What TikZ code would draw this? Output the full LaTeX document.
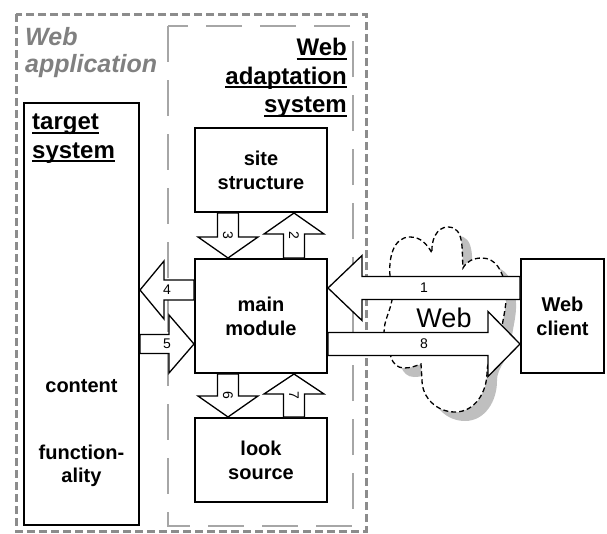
\documentclass[tikz,border=0pt]{standalone}
\usepackage{fontspec}
\setmainfont{Liberation Sans}
\usetikzlibrary{positioning,calc}

\newsavebox{\ulbox}
\newcommand{\ulword}[1]{\sbox{\ulbox}{#1}\rlap{\rule[-4pt]{\wd\ulbox}{2pt}}\usebox{\ulbox}}

% block arrow: [label opts]{start}{end}{half shaft}{half head}{head length}{label}
\newcommand{\blockarrow}[7][]{%
	\coordinate (ba-h) at ($(#3)!#6!(#2)$);
	\draw [flow] ($(#2)!#4!90:(#3)$) -- ($(ba-h)!#4!90:(#3)$) -- ($(ba-h)!#5!90:(#3)$) -- (#3)
		-- ($(ba-h)!#5!-90:(#3)$) -- ($(ba-h)!#4!-90:(#3)$) -- ($(#2)!#4!-90:(#3)$) -- cycle;
	\node [num,#1] (num#7) at ($(#2)!0.5!(#3)$) {#7};
}

\newcommand{\cloudshape}[1]{%
	\path [#1] (390,276) to[out=95,in=180] (410,237) to[out=0,in=120] (432,253)
		to[out=95,in=180] (448,227) to[out=0,in=95] (463,268)
		to[out=60,in=180] (482,258) to[out=0,in=100] (505,285)
		to[out=-80,in=85] (501,335) to[out=-95,in=90] (487,372)
		to[out=-90,in=0] (455,412) to[out=180,in=-90] (422,380) -- (421,364)
		to[out=-160,in=0] (404,368) to[out=180,in=-75] (391,357)
		to[out=105,in=-90] (384,333) to[out=90,in=-100] (392,300)
		to[out=80,in=-85] (390,276) -- cycle;}

\begin{document}
\begin{tikzpicture}[x=1pt,y=-1pt]
	\tikzstyle{box} = [rectangle, draw, line width=2pt, font=\bfseries\fontsize{20}{24}\selectfont, align=center, minimum width=132pt, minimum height=84pt, inner sep=0pt];
	\tikzstyle{flow} = [draw, fill=white, line width=1.3pt, line join=miter];
	\tikzstyle{num} = [font=\fontsize{14}{16}\selectfont, inner sep=0pt];
	\tikzstyle{heading} = [font=\bfseries\fontsize{24}{28.5}\selectfont, inner sep=0pt];
	\useasboundingbox (0,0) rectangle (607,533);
	
	% frames
	\draw [black!45, line width=3pt, dash pattern=on 8pt off 4pt] (16,14) rectangle (366,531);
	\draw [black!35, line width=1.5pt, dash pattern=on 36pt off 18pt] (168,26) rectangle (353,526);
	\node [black!50, font=\bfseries\itshape\fontsize{25}{27}\selectfont, inner sep=0pt, align=left, anchor=north west] (webapp) at (25,27) {Web\\application};
	\node [heading, align=right, anchor=north east] (wastitle) at (347,38) {\ulword{Web}\\\ulword{adaptation}\\\ulword{system}};
	
	% cloud
	\cloudshape{fill=black!25, shift={(10,9)}}
	\cloudshape{draw, fill=white, line width=1.3pt, dash pattern=on 5pt off 3pt}
	\node [font=\fontsize{27}{30}\selectfont, inner sep=0pt] (webtext) at (444,318) {Web};
	
	% boxes
	\draw node [box, minimum height=114pt] (main) at (261,316) {main\\module};
	\draw node [box, above=45pt of main] (site) {site\\structure};
	\draw node [box, below=43pt of main] (look) {look\\source};
	\draw node [box, minimum width=83pt, minimum height=114pt, right=192pt of main] (client) {Web\\client};
	\draw node [box, minimum width=115pt, minimum height=422pt, left=54pt of main, yshift=2pt] (target) {};
	\node [heading, align=left, anchor=north west] (targettitle) at ($(target.north west)+(9,12)$) {\ulword{target}\\\ulword{system}};
	\node [font=\bfseries\fontsize{20}{23}\selectfont, inner sep=0pt, anchor=base] (content) at ($(target.south)+(0,-134)$) {content};
	\node [font=\bfseries\fontsize{20}{23}\selectfont, inner sep=0pt, align=center, anchor=north] (functext) at ($(target.south)+(0,-81)$) {function-\\ality};
	
	% arrow ends
	\coordinate (a3s) at ($(site.south)+(-33,0)$);
	\coordinate (a3e) at ($(main.north)+(-33,0)$);
	\coordinate (a2s) at ($(main.north)+(33,0)$);
	\coordinate (a2e) at ($(site.south)+(33,0)$);
	\coordinate (a6s) at ($(main.south)+(-33,0)$);
	\coordinate (a6e) at ($(look.north)+(-33,0)$);
	\coordinate (a7s) at ($(look.north)+(33,0)$);
	\coordinate (a7e) at ($(main.south)+(33,0)$);
	\coordinate (a4s) at ($(main.west)+(0,-26)$);
	\coordinate (a4e) at (target.east |- a4s);
	\coordinate (a5e) at ($(main.west)+(0,28)$);
	\coordinate (a5s) at (target.east |- a5e);
	\coordinate (a1s) at ($(client.west)+(0,-28)$);
	\coordinate (a1e) at (main.east |- a1s);
	\coordinate (a8s) at ($(main.east)+(0,28)$);
	\coordinate (a8e) at (client.west |- a8s);
	
	\blockarrow[rotate=-90]{a3s}{a3e}{10.5pt}{30pt}{21pt}{3}
	\blockarrow[rotate=-90]{a2s}{a2e}{10.5pt}{30pt}{21pt}{2}
	\blockarrow[rotate=-90]{a6s}{a6e}{10.5pt}{30pt}{21pt}{6}
	\blockarrow[rotate=-90]{a7s}{a7e}{10.5pt}{30pt}{20pt}{7}
	\blockarrow{a4s}{a4e}{10pt}{29pt}{24pt}{4}
	\blockarrow{a5s}{a5e}{9.5pt}{29pt}{25pt}{5}
	\blockarrow{a1s}{a1e}{11.5pt}{32.5pt}{34pt}{1}
	\blockarrow{a8s}{a8e}{11.5pt}{32.5pt}{32pt}{8}
\end{tikzpicture}
\end{document}
